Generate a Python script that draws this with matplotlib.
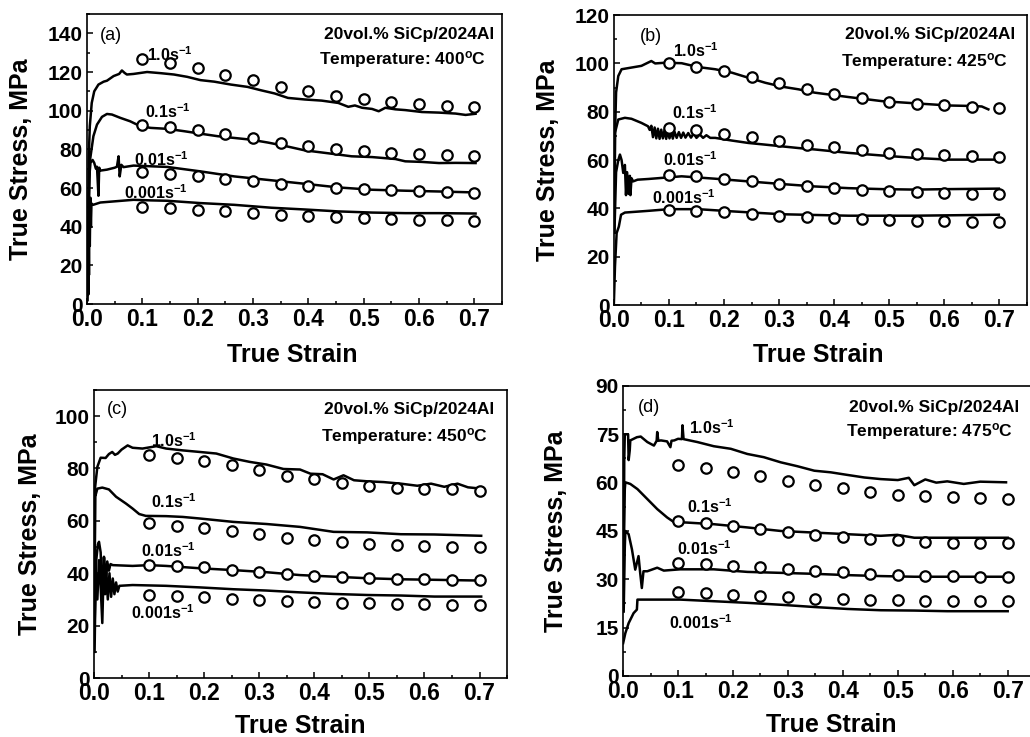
import matplotlib
matplotlib.use("Agg")
import matplotlib.pyplot as plt
from matplotlib.ticker import MultipleLocator

plt.rcParams['font.family'] = ['Liberation Sans', 'DejaVu Sans']
plt.rcParams['font.weight'] = 'bold'
plt.rcParams['mathtext.fontset'] = 'custom'
plt.rcParams['mathtext.rm'] = 'Liberation Sans:bold'
plt.rcParams['mathtext.it'] = 'Liberation Sans:bold'
plt.rcParams['mathtext.bf'] = 'Liberation Sans:bold'
plt.rcParams['mathtext.default'] = 'rm'

# ---------------- model (circles) ----------------
MODEL_STRAIN = [0.10, 0.15, 0.20, 0.25, 0.30, 0.35, 0.40, 0.45, 0.50, 0.55, 0.60, 0.65, 0.70]

A_M_1 = [126.5, 124.8, 122.2, 118.7, 115.8, 112.2, 110.1, 107.5, 105.8, 104.6, 103.2, 102.3, 101.8]
A_M_01 = [92.8, 91.6, 89.9, 88.0, 85.9, 83.3, 81.9, 80.2, 79.0, 78.1, 77.6, 76.9, 76.4]
A_M_001 = [68.1, 67.2, 66.0, 64.6, 63.4, 62.0, 60.8, 60.0, 59.5, 58.8, 58.2, 57.7, 57.4]
A_M_0001 = [50.1, 49.6, 48.7, 47.9, 47.0, 46.1, 45.3, 44.8, 44.4, 44.1, 43.7, 43.4, 43.0]

B_M_1 = [100.1, 98.7, 96.9, 94.5, 91.8, 89.3, 87.5, 85.8, 84.2, 83.3, 82.6, 82.1, 81.7]
B_M_01 = [73.4, 72.4, 71.0, 69.6, 68.1, 66.4, 65.3, 64.1, 63.0, 62.6, 62.3, 61.9, 61.3]
B_M_001 = [54.0, 53.3, 52.3, 51.2, 50.2, 49.1, 48.4, 47.8, 47.1, 46.6, 46.4, 46.1, 46.0]
B_M_0001 = [39.4, 39.0, 38.5, 37.8, 37.0, 36.4, 36.0, 35.6, 35.2, 34.9, 34.6, 34.5, 34.3]

C_M_1 = [85.3, 84.1, 82.9, 81.2, 79.3, 77.2, 75.8, 74.5, 73.2, 72.7, 72.3, 72.0, 71.4]
C_M_01 = [59.0, 58.1, 57.1, 56.2, 54.8, 53.3, 52.7, 51.8, 51.1, 50.8, 50.4, 50.1, 49.9]
C_M_001 = [43.1, 42.8, 42.3, 41.2, 40.6, 39.7, 39.1, 38.5, 38.1, 37.7, 37.7, 37.4, 37.4]
C_M_0001 = [31.7, 31.3, 30.8, 30.3, 29.8, 29.4, 29.2, 28.8, 28.6, 28.3, 28.2, 28.0, 27.9]

D_M_1 = [65.6, 64.6, 63.2, 62.2, 60.6, 59.3, 58.2, 57.2, 56.2, 55.7, 55.4, 55.1, 54.9]
D_M_01 = [48.1, 47.4, 46.6, 45.7, 44.8, 43.8, 43.1, 42.6, 42.1, 41.7, 41.4, 41.2, 41.2]
D_M_001 = [35.1, 34.8, 34.1, 33.8, 33.1, 32.5, 32.2, 31.7, 31.3, 31.0, 31.0, 30.8, 30.8]
D_M_0001 = [26.0, 25.6, 25.1, 24.7, 24.4, 24.0, 23.9, 23.7, 23.5, 23.4, 23.3, 23.2, 23.2]

# ---------------- experiment (lines) ----------------
# (a) 400 C
A_E_1_X = [0.002, 0.003, 0.005, 0.0085, 0.013, 0.0206, 0.03, 0.036, 0.048, 0.058, 0.063, 0.068, 0.072, 0.084,
           0.1085, 0.133, 0.157, 0.181, 0.205, 0.23, 0.26, 0.29, 0.315, 0.339, 0.363, 0.393, 0.424, 0.454,
           0.472, 0.484, 0.497, 0.515, 0.527, 0.539, 0.557, 0.575, 0.605, 0.636, 0.666, 0.684, 0.702]
A_E_1_Y = [20, 75, 92, 104, 110, 113.5, 115, 115.5, 117.9, 119, 120.8, 119.5, 118.7, 119,
           120, 119.4, 118.7, 117.5, 115.8, 115, 113.5, 112.3, 110.5, 108.9, 106.6, 105.8, 105.2, 104,
           102, 102.7, 101.5, 100.9, 99.7, 101.5, 100.7, 100.3, 99.3, 99, 98.5, 97.8, 98.4]
A_E_01_X = [0.003, 0.0055, 0.0115, 0.018, 0.027, 0.036, 0.045, 0.06, 0.078, 0.096, 0.115, 0.145, 0.175,
            0.205, 0.236, 0.266, 0.296, 0.327, 0.357, 0.393, 0.418, 0.454, 0.478, 0.515, 0.557, 0.575,
            0.605, 0.636, 0.666, 0.702]
A_E_01_Y = [50, 74.7, 86.8, 92.8, 96.8, 98.3, 98, 96.3, 94.5, 92, 91.1, 90.6, 89.4,
            88.1, 86.8, 85.9, 85, 83.5, 81.8, 79.5, 78.6, 77.3, 76.4, 76, 75, 73.8,
            73.5, 72.9, 73, 72.9]
A_E_001_X = [0.002, 0.004, 0.006, 0.01, 0.013, 0.016, 0.018, 0.0206, 0.022, 0.024, 0.036, 0.05, 0.054,
             0.057, 0.059, 0.062, 0.066, 0.084, 0.145, 0.205, 0.266, 0.333, 0.393, 0.454, 0.515, 0.575,
             0.636, 0.702]
A_E_001_Y = [30, 65, 73, 74.5, 73, 70, 71, 56, 70.5, 69, 69.5, 70.5, 71,
             76.4, 66, 72, 70.8, 71.6, 70.9, 68.6, 66, 64, 62.2, 60.3, 59.1, 58.6,
             58.2, 57.7]
A_E_0001_X = [0.001, 0.002, 0.0025, 0.003, 0.0035, 0.004, 0.005, 0.006, 0.007, 0.008, 0.011, 0.024,
              0.084, 0.115, 0.145, 0.205, 0.266, 0.333, 0.393, 0.454, 0.515, 0.575, 0.636, 0.702]
A_E_0001_Y = [2, 25, 5, 45, 15, 52, 30, 55, 40, 52, 51.3, 52.5,
              53.9, 53.6, 53.4, 52.2, 51.3, 49.8, 48.9, 47.9, 47.3, 47, 47, 46.8]

# (b) 425 C
B_E_1_X = [0.001, 0.002, 0.004, 0.008, 0.014, 0.032, 0.05, 0.068, 0.075, 0.093, 0.123, 0.153, 0.184,
           0.214, 0.244, 0.275, 0.305, 0.335, 0.365, 0.426, 0.487, 0.547, 0.608, 0.65, 0.668, 0.68]
B_E_1_Y = [30, 70, 88, 94.8, 97.6, 98.3, 99, 101, 100, 100.3, 100.1, 98.5, 97.6,
           96.2, 94.1, 92, 90.4, 89.3, 87.9, 86.1, 84.4, 83.5, 82.6, 82.4, 82.2, 81]
B_E_01_X = [0.001, 0.002, 0.008, 0.02, 0.032, 0.05, 0.062, 0.065, 0.068, 0.071, 0.074, 0.077, 0.080,
            0.083, 0.086, 0.089, 0.092, 0.095, 0.098, 0.101, 0.104, 0.107, 0.110, 0.114, 0.118, 0.122,
            0.126, 0.130, 0.135, 0.140, 0.145, 0.150, 0.156, 0.162, 0.168, 0.175, 0.184, 0.214, 0.244,
            0.275, 0.305, 0.335, 0.365, 0.426, 0.487, 0.547, 0.608, 0.699]
B_E_01_Y = [40, 71.3, 76.8, 77.5, 77.1, 75.4, 74, 72.5, 74.2, 69.5, 73.5, 69, 73,
            68.8, 72.6, 69, 72.4, 68.8, 72.2, 69, 72, 68.9, 71.8, 69.2, 71.6, 69.2,
            71.4, 69.3, 71.2, 69.3, 71, 69.2, 70.6, 69.2, 70.3, 69.2, 69.2, 68.1, 67.1,
            66.4, 65.7, 65, 64.4, 63, 61.9, 60.9, 60.2, 60.2]
B_E_001_X = [0.001, 0.004, 0.008, 0.011, 0.014, 0.017, 0.02, 0.022, 0.024, 0.027, 0.029, 0.03, 0.032,
             0.035, 0.043, 0.063, 0.123, 0.184, 0.244, 0.305, 0.365, 0.426, 0.487, 0.547, 0.608, 0.699]
B_E_001_Y = [30, 55, 60, 62.3, 60, 54.7, 58, 45.5, 55, 46, 53.5, 45.5, 52.5,
             51.2, 51.9, 52.2, 53.3, 52.3, 51.2, 50.1, 49.1, 48.4, 48, 47.8, 48, 48.2]
B_E_0001_X = [0.0, 0.002, 0.005, 0.009, 0.013, 0.02, 0.062, 0.1, 0.153, 0.214, 0.305, 0.426, 0.547, 0.699]
B_E_0001_Y = [0.7, 16, 29.8, 32.5, 37.4, 38.3, 39, 39.7, 39.7, 38.8, 37.6, 37, 37, 37.4]

# (c) 450 C
C_E_1_X = [0.001, 0.002, 0.006, 0.012, 0.021, 0.027, 0.033, 0.038, 0.043, 0.05, 0.061, 0.07, 0.088,
           0.113, 0.131, 0.161, 0.192, 0.222, 0.253, 0.283, 0.313, 0.344, 0.374, 0.393, 0.415, 0.435,
           0.453, 0.472, 0.496, 0.526, 0.557, 0.587, 0.612, 0.636, 0.66, 0.679, 0.703]
C_E_1_Y = [30, 73, 80.6, 84.1, 84, 85.5, 86.3, 85.2, 85.7, 87.2, 88.8, 87.9, 87.6,
           88.5, 87.6, 86.9, 86.3, 85.7, 83.8, 82.5, 81.5, 79.8, 79.6, 78, 77.8, 75.8,
           77.4, 75.5, 75.1, 74.8, 74.2, 73.4, 74.2, 73, 74.2, 72.8, 72.3]
C_E_01_X = [0.001, 0.002, 0.006, 0.015, 0.027, 0.04, 0.058, 0.07, 0.082, 0.094, 0.131, 0.161, 0.192,
            0.253, 0.313, 0.374, 0.435, 0.496, 0.557, 0.618, 0.703]
C_E_01_Y = [40, 69.2, 72.3, 72.7, 72, 69.2, 66.6, 64.7, 62.6, 61.9, 61.8, 61.5, 60.9,
            59.6, 58.8, 57.7, 55.8, 55.6, 54.9, 54.8, 54.3]
C_E_001_X = [0.001, 0.004, 0.007, 0.009, 0.012, 0.015, 0.018, 0.021, 0.024, 0.027, 0.03, 0.034, 0.07,
             0.1, 0.131, 0.192, 0.253, 0.313, 0.374, 0.435, 0.496, 0.557, 0.618, 0.703]
C_E_001_Y = [20, 45, 51, 52, 48, 29.8, 46.3, 38, 44.5, 41, 43.5, 43.1, 42.8,
             43.1, 42.8, 41.9, 41.2, 40.4, 39.3, 38.7, 38.1, 37.7, 37.5, 37.2]
C_E_0001_X = [0.001, 0.003, 0.006, 0.009, 0.012, 0.015, 0.018, 0.02, 0.022, 0.025, 0.028, 0.031, 0.034,
              0.037, 0.04, 0.043, 0.046, 0.07, 0.131, 0.192, 0.253, 0.313, 0.374, 0.435, 0.496, 0.557,
              0.618, 0.703]
C_E_0001_Y = [10, 41, 30, 45, 35, 21, 46, 32, 42, 30, 40, 31, 38,
              32, 36.5, 33, 35.2, 35.5, 35.2, 34.6, 33.9, 33.4, 32.7, 32.1, 31.7, 31.5,
              31.1, 31.1]

# (d) 475 C
D_E_1_X = [0.001, 0.002, 0.003, 0.009, 0.01, 0.012, 0.013, 0.025, 0.032, 0.044, 0.056, 0.061, 0.062,
           0.064, 0.069, 0.08, 0.086, 0.088, 0.093, 0.1, 0.107, 0.108, 0.11, 0.135, 0.165, 0.196, 0.226,
           0.256, 0.287, 0.317, 0.348, 0.378, 0.408, 0.439, 0.469, 0.5, 0.52, 0.53, 0.55, 0.57, 0.59,
           0.62, 0.65, 0.697]
D_E_1_Y = [30, 67, 75, 75, 67, 70, 73.1, 74.1, 74.3, 72.6, 71.5, 73, 75.7,
           73, 73.1, 72.8, 71, 73, 73.1, 73.6, 73.5, 77.8, 73.5, 72.6, 71.3, 70.5, 68.9,
           67.9, 66.3, 65.1, 63.7, 63.2, 62.4, 61.6, 61.1, 60.8, 61.5, 59.2, 61, 60, 60.4,
           59.6, 60.3, 60.1]
D_E_01_X = [0.001, 0.003, 0.004, 0.013, 0.026, 0.044, 0.062, 0.08, 0.092, 0.117, 0.165, 0.226, 0.287,
            0.348, 0.408, 0.469, 0.499, 0.53, 0.59, 0.7]
D_E_01_Y = [40, 58, 60.1, 59.6, 58, 54.9, 51.8, 49.2, 47.8, 47.6, 47.1, 46.1, 45,
            44.5, 44, 43.5, 43.8, 42.9, 42.9, 42.9]
D_E_001_X = [0.001, 0.003, 0.004, 0.01, 0.016, 0.022, 0.028, 0.031, 0.034, 0.037, 0.044, 0.062, 0.074,
             0.104, 0.165, 0.226, 0.287, 0.348, 0.408, 0.469, 0.53, 0.59, 0.7]
D_E_001_Y = [20, 40, 45, 44, 39.3, 33, 37.2, 32, 27.3, 32.5, 32.5, 33.6, 32.7,
             33.1, 33.1, 32.3, 32, 31.7, 31.3, 31, 30.8, 30.8, 30.8]
D_E_0001_X = [0.0, 0.004, 0.01, 0.019, 0.025, 0.026, 0.044, 0.104, 0.165, 0.226, 0.287, 0.348, 0.408,
              0.469, 0.53, 0.59, 0.7]
D_E_0001_Y = [10.2, 13.3, 16.4, 19.5, 20.6, 23.7, 23.7, 23.7, 23.2, 22.7, 22.1, 21.4, 20.8,
              20.4, 20.3, 20.1, 20.1]

RATE_LABELS = [r'1.0s$^{-1}$', r'0.1s$^{-1}$', r'0.01s$^{-1}$', r'0.001s$^{-1}$']
PANEL_LETTERS = ['(a)', '(b)', '(c)', '(d)']
TEMPERATURES = ['400', '425', '450', '475']
MATERIAL = '20vol.% SiCp/2024Al'

# ---------------- layout ----------------
panels = [
    dict(pos=[0.0845, 0.5875, 0.403, 0.3935], ylim=150, major=20, minor=10,
         exp=[(A_E_1_X, A_E_1_Y), (A_E_01_X, A_E_01_Y), (A_E_001_X, A_E_001_Y), (A_E_0001_X, A_E_0001_Y)],
         mod=[A_M_1, A_M_01, A_M_001, A_M_0001],
         letter=(0.024, 139), mat=(0.736, 139.5), temp=(0.72, 126.5),
         rates=[(0.109, 129), (0.105, 99.5), (0.084, 74.7), (0.067, 57.8)],
         ylab=-0.13, xlab=(0.495, -0.134)),
    dict(pos=[0.596, 0.586, 0.401, 0.3935], ylim=120, major=20, minor=10,
         exp=[(B_E_1_X, B_E_1_Y), (B_E_01_X, B_E_01_Y), (B_E_001_X, B_E_001_Y), (B_E_0001_X, B_E_0001_Y)],
         mod=[B_M_1, B_M_01, B_M_001, B_M_0001],
         letter=(0.047, 111), mat=(0.729, 112), temp=(0.716, 101),
         rates=[(0.108, 105.5), (0.105, 79.6), (0.09, 60.2), (0.069, 44.4)],
         ylab=-0.131, xlab=(0.496, -0.131)),
    dict(pos=[0.0913, 0.080, 0.401, 0.391], ylim=110, major=20, minor=10,
         exp=[(C_E_1_X, C_E_1_Y), (C_E_01_X, C_E_01_Y), (C_E_001_X, C_E_001_Y), (C_E_0001_X, C_E_0001_Y)],
         mod=[C_M_1, C_M_01, C_M_001, C_M_0001],
         letter=(0.024, 102.5), mat=(0.727, 102.5), temp=(0.716, 92.2),
         rates=[(0.1035, 90.7), (0.1035, 67.5), (0.085, 48.5), (0.067, 25)],
         ylab=-0.127, xlab=(0.5, -0.125)),
    dict(pos=[0.605, 0.0828, 0.4, 0.3935], ylim=90, major=15, minor=7.5,
         exp=[(D_E_1_X, D_E_1_Y), (D_E_01_X, D_E_01_Y), (D_E_001_X, D_E_001_Y), (D_E_0001_X, D_E_0001_Y)],
         mod=[D_M_1, D_M_01, D_M_001, D_M_0001],
         letter=(0.027, 83.3), mat=(0.721, 83.3), temp=(0.71, 75.8),
         rates=[(0.12, 77), (0.117, 52.5), (0.098, 39.6), (0.083, 16.7)],
         ylab=-0.133, xlab=(0.505, -0.128)),
]

fig = plt.figure(figsize=(10.3, 7.37), dpi=100)

for i, p in enumerate(panels):
    ax = fig.add_axes(p['pos'])
    for (ex, ey) in p['exp']:
        ax.plot(ex, ey, color='black', lw=1.8, zorder=2)
    for m in p['mod']:
        ax.plot(MODEL_STRAIN, m, linestyle='none', marker='o', ms=7.5, mfc='white',
                mec='black', mew=1.6, zorder=3)
    ax.set_xlim(0, 0.75)
    ax.set_ylim(0, p['ylim'])
    ax.xaxis.set_major_locator(MultipleLocator(0.1))
    ax.xaxis.set_minor_locator(MultipleLocator(0.05))
    ax.yaxis.set_major_locator(MultipleLocator(p['major']))
    ax.yaxis.set_minor_locator(MultipleLocator(p['minor']))
    ax.set_xticks([0.0, 0.1, 0.2, 0.3, 0.4, 0.5, 0.6, 0.7])
    ax.set_xticklabels(['0.0', '0.1', '0.2', '0.3', '0.4', '0.5', '0.6', '0.7'])
    ax.tick_params(which='both', direction='in', top=False, right=False, width=1.1)
    ax.tick_params(which='major', length=4)
    ax.tick_params(which='minor', length=2.5)
    ax.tick_params(axis='x', labelsize=16.5, pad=3)
    ax.tick_params(axis='y', labelsize=15, pad=3)
    for lab in ax.get_xticklabels() + ax.get_yticklabels():
        lab.set_fontweight('bold')
    for sp in ax.spines.values():
        sp.set_linewidth(1.2)
    ax.set_xlabel('True Strain', fontsize=18, fontweight='bold')
    ax.set_ylabel('True Stress, MPa', fontsize=18, fontweight='bold')
    ax.xaxis.set_label_coords(p['xlab'][0], p['xlab'][1])
    ax.yaxis.set_label_coords(p['ylab'], 0.5)

    ax.text(p['letter'][0], p['letter'][1], PANEL_LETTERS[i], fontsize=13, fontweight='normal',
            ha='left', va='center')
    ax.text(p['mat'][0], p['mat'][1], MATERIAL, fontsize=12.5, fontweight='bold',
            ha='right', va='center')
    ax.text(p['temp'][0], p['temp'][1], 'Temperature: ' + TEMPERATURES[i] + r'$^{\rm o}$C',
            fontsize=12.5, fontweight='bold', ha='right', va='center')
    for (rx, ry), rl in zip(p['rates'], RATE_LABELS):
        ax.text(rx, ry, rl, fontsize=11.5, fontweight='bold', ha='left', va='center', zorder=4)

fig.savefig('out.png', dpi=100)
